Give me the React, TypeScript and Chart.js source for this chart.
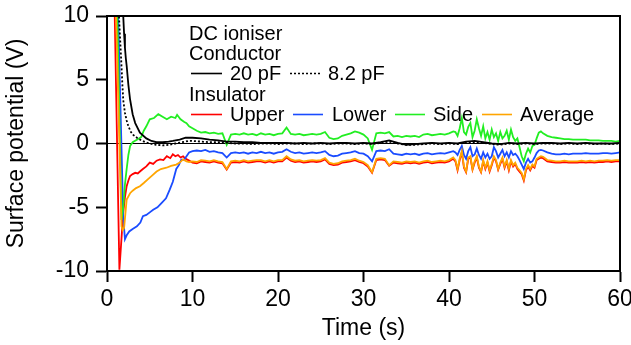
import React, { useEffect, useRef } from "react";
import { Chart, registerables } from "chart.js";

Chart.register(...registerables);

// ---------- data ----------
// early transient (per series), time in s, potential in V
const redEarlyT = [0, 0.9, 1.45, 1.7, 1.9, 2.1, 2.3, 2.5, 2.7, 3.0, 3.3, 3.6, 3.85, 4.2, 4.6, 5.0, 5.4, 5.8, 6.2, 6.6, 7.0, 7.4, 7.7, 8.0, 8.3, 8.6, 8.9, 9.2, 9.5];
const redEarlyV = [40, 10.2, -9.9, -7.4, -5.4, -4.2, -3.35, -2.9, -2.55, -2.4, -2.3, -2.35, -2.2, -2.0, -1.8, -1.5, -1.6, -1.35, -1.25, -1.3, -1.0, -1.15, -0.85, -1.0, -0.9, -1.1, -1.0, -1.2, -1.3];

const blueEarlyT = [0, 1.3, 1.9, 2.1, 2.3, 2.6, 3.0, 3.5, 3.9, 4.2, 4.6, 5.0, 5.4, 5.9, 6.4, 6.9, 7.35, 7.7, 8.1, 8.4, 8.7, 9.0, 9.3, 9.6];
const blueEarlyV = [40, 10.2, -5.8, -7.5, -7.2, -6.9, -6.7, -6.5, -6.2, -5.7, -5.6, -5.4, -5.2, -5.0, -4.65, -4.3, -3.6, -3.0, -2.0, -1.7, -1.25, -1.3, -1.0, -0.7];

const greenEarlyT = [0, 1.2, 1.7, 1.9, 2.1, 2.3, 2.5, 2.7, 3.0, 3.5, 4.0, 4.3, 4.6, 5.0, 5.5, 6.0, 6.5, 7.0, 7.5, 8.0, 8.2, 8.6, 9.0, 9.3, 9.6];
const greenEarlyV = [40, 10.2, -6.0, -5.0, -3.2, -2.0, -0.9, -0.2, 0.1, 0.3, 0.5, 1.0, 1.35, 1.9, 2.0, 2.3, 2.1, 1.9, 2.1, 2.0, 2.25, 1.9, 1.7, 1.6, 1.35];

const orangeEarlyT = [0, 1.05, 1.7, 1.85, 2.0, 2.15, 2.3, 2.7, 3.0, 3.4, 3.85, 4.3, 4.8, 5.3, 5.8, 6.3, 6.95, 7.5, 8.1, 8.5, 8.9, 9.3, 9.6];
const orangeEarlyV = [40, 10.2, -6.5, -6.8, -6.6, -5.5, -4.4, -3.9, -3.7, -3.5, -3.35, -3.1, -2.8, -2.5, -2.2, -2.0, -1.9, -1.75, -1.65, -1.5, -1.25, -1.4, -1.45];

const c20EarlyT = [1.5, 1.9, 2.0, 2.1, 2.2, 2.3, 2.5, 2.7, 3.0, 3.3, 3.85, 4.6, 5.2, 5.8, 6.5, 7.2, 7.7, 8.5, 9.2];
const c20EarlyV = [20, 10, 8.6, 7.5, 6.7, 6.1, 4.6, 3.45, 2.3, 1.6, 0.85, 0.4, 0.2, 0.1, 0.1, 0.15, 0.2, 0.3, 0.45];

const c8EarlyT = [1.1, 1.4, 1.55, 1.7, 1.8, 1.9, 2.1, 2.3, 2.5, 2.8, 3.1, 3.5, 4.0, 4.5, 5.0, 5.7, 6.5, 7.3, 8.0, 8.8, 9.5];
const c8EarlyV = [20, 10, 8.0, 6.0, 4.6, 3.4, 2.4, 1.8, 1.35, 0.9, 0.65, 0.45, 0.25, 0.1, 0.0, -0.1, -0.15, -0.1, 0.0, 0.1, 0.2];

// settled part, 10 - 40.5 s (0.5 s grid)
const timeA = [
  10, 10.5, 11, 11.5, 12, 12.5, 13, 13.5, 14, 14.5, 15, 15.5, 16, 16.5, 17, 17.5, 18, 18.5, 19, 19.5,
  20, 20.5, 21, 21.5, 22, 22.5, 23, 23.5, 24, 24.5, 25, 25.5, 26, 26.5, 27, 27.5, 28, 28.5, 29, 29.5,
  30, 30.5, 31, 31.5, 32, 32.5, 33, 33.5, 34, 34.5, 35, 35.5, 36, 36.5, 37, 37.5, 38, 38.5, 39, 39.5,
  40, 40.5,
];
// noisy part, 40.75 - 50.75 s (0.25 s grid)
const timeB = [
  40.75, 41, 41.25, 41.5, 41.75, 42, 42.25, 42.5, 42.75, 43, 43.25, 43.5, 43.75, 44, 44.25, 44.5, 44.75, 45, 45.25, 45.5,
  45.75, 46, 46.25, 46.5, 46.75, 47, 47.25, 47.5, 47.75, 48, 48.25, 48.5, 48.75, 49, 49.25, 49.5, 49.75, 50, 50.25, 50.5, 50.75,
];
// tail, 51 - 60 s (0.5 s grid)
const timeC = [51, 51.5, 52, 52.5, 53, 53.5, 54, 54.5, 55, 55.5, 56, 56.5, 57, 57.5, 58, 58.5, 59, 59.5, 60];

const redA = [
  -1.5, -1.55, -1.4, -1.45, -1.5, -1.4, -1.5, -1.55, -2.05, -1.5, -1.45, -1.5, -1.4, -1.5, -1.45, -1.4, -1.4, -1.5, -1.4, -1.5,
  -1.4, -1.4, -1.1, -1.35, -1.45, -1.4, -1.5, -1.45, -1.4, -1.45, -1.4, -1.25, -1.6, -1.7, -1.65, -1.5, -1.45, -1.4, -1.3, -1.45,
  -1.55, -1.8, -2.3, -1.3, -1.25, -1.3, -1.75, -1.5, -1.55, -1.6, -1.5, -1.55, -1.5, -1.6, -1.5, -1.45, -1.55, -1.5, -1.45, -1.5,
  -1.4, -1.2,
];
const redB = [
  -1.4, -2.1, -1.3, -0.7, -1.9, -2.25, -1.2, -1.1, -2.05, -1.5, -1.1, -1.9, -2.25, -1.4, -2.0, -1.5, -2.2, -1.7, -1.1, -1.4,
  -2.05, -1.6, -1.2, -1.9, -1.4, -2.1, -1.4, -1.8, -1.6, -2.0, -2.2, -2.4, -2.9, -2.1, -1.8, -2.1, -1.75, -1.9, -1.3, -1.2, -1.1,
];
const redC = [-1.15, -1.4, -1.45, -1.5, -1.5, -1.45, -1.5, -1.5, -1.5, -1.45, -1.5, -1.45, -1.5, -1.45, -1.45, -1.4, -1.45, -1.4, -1.4];

const blueA = [
  -0.6, -0.55, -0.6, -0.5, -0.65, -0.6, -0.7, -0.75, -1.1, -0.75, -0.7, -0.75, -0.7, -0.8, -0.7, -0.75, -0.65, -0.75, -0.7, -0.8,
  -0.7, -0.65, -0.45, -0.65, -0.75, -0.7, -0.8, -0.75, -0.7, -0.75, -0.7, -0.6, -0.9, -1.0, -0.95, -0.8, -0.75, -0.7, -0.6, -0.75,
  -0.8, -1.0, -1.4, -0.6, -0.55, -0.6, -0.45, -0.8, -0.85, -0.9, -0.8, -0.85, -0.8, -0.9, -0.8, -0.75, -0.85, -0.8, -0.75, -0.8,
  -0.7, -0.6,
];
const blueB = [
  -0.7, -0.9, -0.5, -0.2, -0.9, -1.2, -0.6, -0.3, -1.0, -0.86, -0.4, -0.9, -1.2, -0.7, -1.1, -0.8, -1.2, -1.0, -0.3, -0.6,
  -1.1, -0.8, -0.5, -1.0, -0.7, -1.1, -0.6, -0.9, -0.8, -1.0, -1.3, -1.65, -2.0, -1.5, -1.2, -1.5, -1.4, -1.1, -0.75, -0.55, -0.5,
];
const blueC = [-0.55, -0.7, -0.8, -0.85, -0.85, -0.8, -0.85, -0.8, -0.8, -0.8, -0.75, -0.8, -0.8, -0.8, -0.75, -0.75, -0.8, -0.75, -0.7];

const greenA = [
  1.2, 1.0, 0.85, 0.9, 0.8, 0.85, 0.75, 0.8, -0.1, 0.7, 0.75, 0.7, 0.8, 0.7, 0.75, 0.65, 0.8, 0.7, 0.75, 0.65,
  0.75, 0.8, 1.25, 0.75, 0.7, 0.75, 0.65, 0.7, 0.75, 0.7, 0.75, 0.9, 0.45, 0.35, 0.4, 0.6, 0.7, 0.8, 0.95, 0.85,
  0.7, 0.4, -0.5, 0.8, 0.85, 0.8, 0.9, 0.55, 0.6, 0.5, 0.6, 0.55, 0.6, 0.5, 0.7, 0.75, 0.65, 0.7, 0.75, 0.7,
  0.8, 0.95,
];
const greenB = [
  0.9, 0.6, 1.2, 2.0, 0.9, 0.7, 1.3, 1.6, 0.5, 1.0, 1.9, 1.2, 0.6, 1.35, 0.4, 0.9, 0.3, 1.1, 0.5, 0.8,
  0.2, 0.9, 0.4, 0.6, 1.0, 0.3, 1.1, 0.5, 0.2, 0.4, -0.3, -1.0, -1.4, -0.8, -0.4, -0.7, -0.2, -0.1, 0.4, 0.85, 0.95,
];
const greenC = [0.8, 0.6, 0.5, 0.45, 0.4, 0.35, 0.35, 0.3, 0.3, 0.3, 0.3, 0.25, 0.25, 0.25, 0.2, 0.2, 0.2, 0.15, 0.2];

const orangeA = [
  -1.4, -1.45, -1.3, -1.35, -1.4, -1.3, -1.4, -1.45, -2.0, -1.4, -1.35, -1.4, -1.3, -1.4, -1.35, -1.3, -1.3, -1.4, -1.3, -1.4,
  -1.3, -1.3, -1.0, -1.25, -1.35, -1.3, -1.4, -1.35, -1.3, -1.35, -1.3, -1.15, -1.5, -1.6, -1.55, -1.4, -1.35, -1.3, -1.2, -1.35,
  -1.45, -1.7, -2.25, -1.2, -1.15, -1.2, -1.7, -1.4, -1.45, -1.5, -1.4, -1.45, -1.4, -1.5, -1.4, -1.35, -1.45, -1.4, -1.35, -1.4,
  -1.3, -1.1,
];
const orangeB = [
  -1.3, -2.0, -1.2, -0.6, -1.8, -2.2, -1.1, -1.0, -2.0, -1.4, -1.0, -1.8, -2.2, -1.3, -1.9, -1.4, -2.1, -1.6, -1.0, -1.3,
  -2.0, -1.5, -1.1, -1.8, -1.3, -2.0, -1.3, -1.7, -1.5, -1.9, -2.1, -2.3, -2.8, -2.0, -1.7, -2.0, -1.65, -1.8, -1.2, -1.1, -1.0,
];
const orangeC = [-1.05, -1.3, -1.35, -1.4, -1.4, -1.35, -1.4, -1.4, -1.4, -1.35, -1.4, -1.35, -1.4, -1.35, -1.35, -1.3, -1.35, -1.3, -1.3];

// conductor traces, 1 s grid
const timeCoarse = [
  10, 11, 12, 13, 14, 15, 16, 17, 18, 19, 20, 21, 22, 23, 24, 25, 26, 27, 28, 29,
  30, 31, 32, 33, 34, 35, 36, 37, 38, 39, 40, 41, 42, 43, 44, 45, 46, 47, 48, 49,
  50, 51, 52, 53, 54, 55, 56, 57, 58, 59, 60,
];
const c20Late = [
  0.45, 0.4, 0.3, 0.25, 0.15, 0.15, 0.1, 0.1, 0.05, 0.05, 0.05, 0.05, 0.0, 0.05, 0.0, 0.05, 0.0, 0.05, 0.05, 0.0,
  0.05, 0.0, 0.1, 0.25, 0.05, -0.1, -0.05, 0.0, 0.05, 0.0, 0.05, 0.0, 0.15, 0.2, 0.1, 0.0, -0.05, 0.05, 0.0, 0.05,
  0.0, 0.05, 0.05, 0.0, 0.05, 0.0, 0.05, 0.0, 0.0, 0.0, 0.05,
];
const c8Late = [
  0.2, 0.15, 0.1, 0.1, 0.05, 0.0, 0.0, -0.05, 0.0, 0.0, -0.05, 0.0, 0.0, -0.05, 0.0, 0.0, -0.05, 0.0, 0.0, -0.05,
  0.0, -0.05, 0.05, 0.15, 0.0, -0.1, -0.1, -0.05, 0.0, -0.05, 0.0, -0.05, 0.1, 0.1, 0.05, -0.05, -0.1, 0.0, -0.05, 0.0,
  -0.05, 0.0, 0.0, -0.05, 0.0, -0.05, 0.0, -0.05, 0.0, -0.05, 0.0,
];

const xTicks = [0, 10, 20, 30, 40, 50, 60];
const yTicks = [-10, -5, 0, 5, 10];

const FONT = '"Liberation Sans", Arial, Helvetica, sans-serif';

const COLORS = {
  red: "#ff0000",
  blue: "#1a4cff",
  green: "#22ee22",
  orange: "#ffa500",
};

const pts = (t: number[], v: number[]) => t.map((x, i) => ({ x, y: v[i] }));
const series = (eT: number[], eV: number[], a: number[], b: number[], c: number[]) => [
  ...pts(eT, eV),
  ...pts(timeA, a),
  ...pts(timeB, b),
  ...pts(timeC, c),
];

const framePlugin = {
  id: "frame",
  afterDatasetsDraw(chart: any) {
    const { ctx, chartArea } = chart;
    ctx.save();
    ctx.strokeStyle = "#000";
    ctx.lineWidth = 2;
    ctx.beginPath();
    ctx.moveTo(chartArea.left, chartArea.top);
    ctx.lineTo(chartArea.right, chartArea.top);
    ctx.lineTo(chartArea.right, chartArea.bottom);
    ctx.stroke();
    ctx.restore();
  },
};

const legendPlugin = {
  id: "textLegend",
  afterDraw(chart: any) {
    const ctx = chart.ctx;
    ctx.save();
    ctx.font = `20px ${FONT}`;
    ctx.fillStyle = "#000";
    ctx.textAlign = "left";
    ctx.textBaseline = "alphabetic";
    const x0 = 189;
    ctx.fillText("DC ioniser", x0, 40);
    ctx.fillText("Conductor", x0, 60);
    ctx.fillText("Insulator", x0, 101);
    const sample = (x1: number, x2: number, y: number, color: string, dash: number[]) => {
      ctx.strokeStyle = color;
      ctx.lineWidth = 1.6;
      ctx.setLineDash(dash);
      ctx.beginPath();
      ctx.moveTo(x1, y);
      ctx.lineTo(x2, y);
      ctx.stroke();
      ctx.setLineDash([]);
    };
    sample(191, 222, 73.5, "#000", []);
    ctx.fillText("20 pF", 230, 80);
    sample(290, 320, 73.5, "#000", [2, 2]);
    ctx.fillText("8.2 pF", 328, 80);
    sample(191, 222, 114.5, COLORS.red, []);
    ctx.fillText("Upper", 230, 121);
    sample(293, 323, 114.5, COLORS.blue, []);
    ctx.fillText("Lower", 332, 121);
    sample(395, 425, 114.5, COLORS.green, []);
    ctx.fillText("Side", 433, 121);
    sample(482, 512, 114.5, COLORS.orange, []);
    ctx.fillText("Average", 520, 121);
    ctx.restore();
  },
};

export default function App() {
  const ref = useRef<HTMLCanvasElement | null>(null);

  useEffect(() => {
    document.body.style.margin = "0";
    const canvas = ref.current;
    if (!canvas) return;
    const lw = 1.8;
    const mk = (label: string, data: any[], color: string, dash: number[] = []) => ({
      label,
      data,
      borderColor: color,
      backgroundColor: color,
      borderWidth: lw,
      borderDash: dash,
      pointRadius: 0,
      tension: 0,
      fill: false,
    });
    const chart = new Chart(canvas, {
      type: "line",
      data: {
        datasets: [
          mk("20 pF", [...pts(c20EarlyT, c20EarlyV), ...pts(timeCoarse, c20Late)], "#000"),
          mk("8.2 pF", [...pts(c8EarlyT, c8EarlyV), ...pts(timeCoarse, c8Late)], "#000", [2, 2]),
          mk("Average", series(orangeEarlyT, orangeEarlyV, orangeA, orangeB, orangeC), COLORS.orange),
          mk("Side", series(greenEarlyT, greenEarlyV, greenA, greenB, greenC), COLORS.green),
          mk("Lower", series(blueEarlyT, blueEarlyV, blueA, blueB, blueC), COLORS.blue),
          mk("Upper", series(redEarlyT, redEarlyV, redA, redB, redC), COLORS.red),
        ],
      },
      options: {
        animation: false,
        responsive: false,
        maintainAspectRatio: false,
        layout: { padding: { top: 16, right: 11, left: 0, bottom: 0 } },
        plugins: {
          legend: { display: false },
          tooltip: { enabled: false },
        },
        scales: {
          x: {
            type: "linear",
            min: 0,
            max: 60,
            afterBuildTicks: (s: any) => {
              s.ticks = xTicks.map((v) => ({ value: v }));
            },
            afterFit: (s: any) => {
              s.height = 74;
              s.paddingLeft = 0;
              s.paddingRight = 0;
            },
            ticks: {
              color: "#000",
              font: { family: FONT, size: 23 },
              padding: 4,
              maxRotation: 0,
            },
            grid: {
              color: "rgba(0,0,0,0)",
              tickColor: "#000",
              tickLength: 11,
              tickWidth: 2,
              drawOnChartArea: false,
            },
            border: { display: true, color: "#000", width: 2 },
            title: {
              display: true,
              text: "Time (s)",
              color: "#000",
              font: { family: FONT, size: 23 },
              padding: { top: 0, bottom: 3 },
            },
          },
          y: {
            type: "linear",
            min: -10,
            max: 10,
            afterBuildTicks: (s: any) => {
              s.ticks = yTicks.map((v) => ({ value: v }));
            },
            afterFit: (s: any) => {
              s.width = 107;
              s.paddingTop = 0;
              s.paddingBottom = 0;
            },
            ticks: {
              color: "#000",
              font: { family: FONT, size: 23 },
              padding: 7,
            },
            grid: {
              color: (c: any) => (c.tick && c.tick.value === 0 ? "#000" : "rgba(0,0,0,0)"),
              lineWidth: 1,
              tickColor: "#000",
              tickLength: 11,
              tickWidth: 2,
            },
            border: { display: true, color: "#000", width: 2 },
            title: {
              display: true,
              text: "Surface potential (V)",
              color: "#000",
              font: { family: FONT, size: 23 },
              padding: { top: 3, bottom: 0 },
            },
          },
        },
      },
      plugins: [framePlugin, legendPlugin],
    } as any);
    return () => chart.destroy();
  }, []);

  return (
    <div style={{ position: "absolute", left: 0, top: 0, width: 631, height: 345, background: "#fff" }}>
      <canvas ref={ref} width={631} height={345} />
    </div>
  );
}
